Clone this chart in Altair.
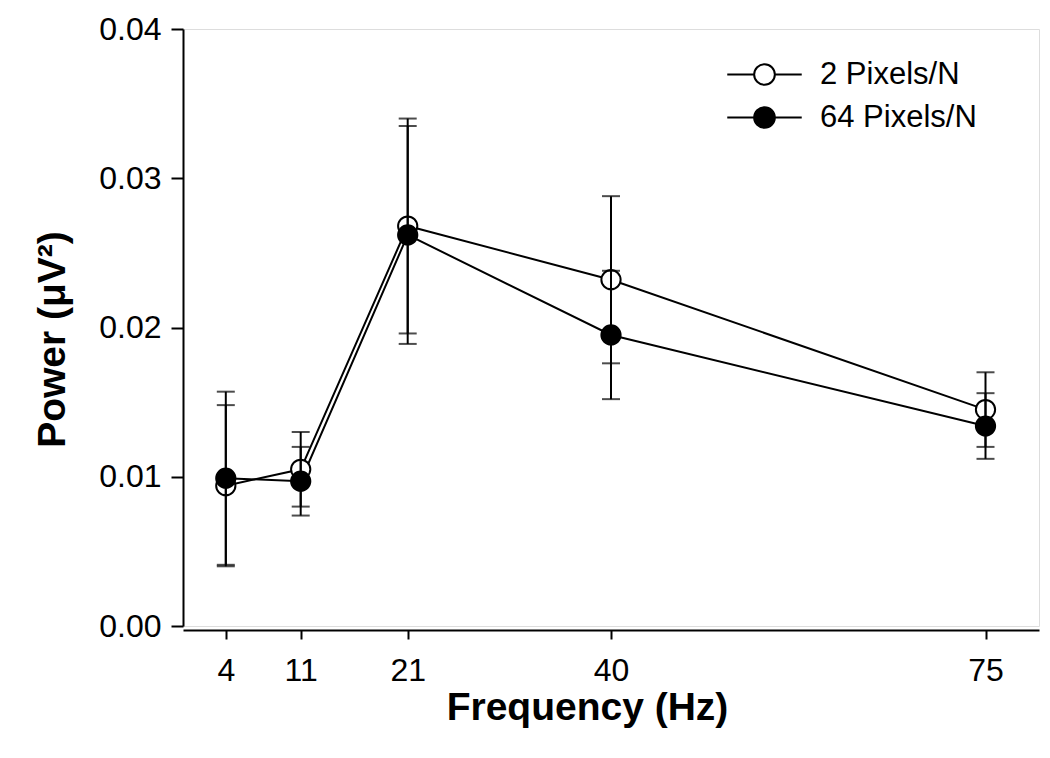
import altair as alt
import pandas as pd

# ---- data ----
freq = [4, 11, 21, 40, 75]
series_names = ["2 Pixels/N", "64 Pixels/N"]
mean_2px = [0.0094, 0.0105, 0.0268, 0.0232, 0.0145]
err_2px = [0.0054, 0.0025, 0.0072, 0.0056, 0.0025]
mean_64px = [0.0099, 0.0097, 0.0262, 0.0195, 0.0134]
err_64px = [0.0058, 0.0023, 0.0073, 0.0043, 0.0022]
x_ticks = [4, 11, 21, 40, 75]
y_ticks = [0.0, 0.01, 0.02, 0.03, 0.04]

rows = []
for name, means, errs in [(series_names[0], mean_2px, err_2px),
                          (series_names[1], mean_64px, err_64px)]:
    for f, m, e in zip(freq, means, errs):
        rows.append({"freq": f, "series": name, "power": m,
                     "lo": m - e, "hi": m + e})
df = pd.DataFrame(rows)

FONT = "Liberation Sans"

x_enc = alt.X(
    "freq:Q",
    scale=alt.Scale(domain=[0, 80], nice=False, zero=False),
    axis=alt.Axis(
        values=x_ticks, format="d", title="Frequency (Hz)",
        grid=False, offset=4, tickSize=9, labelPadding=16,
        labelFontSize=32, labelFont=FONT, labelColor="black",
        titleFontSize=39, titleFont=FONT, titleFontWeight="bold",
        titleColor="black", titleX=404, titleY=89,
        titleBaseline="alphabetic", titleAlign="center",
        domainColor="black", domainWidth=2, tickColor="black", tickWidth=2,
    ),
)
y_scale = alt.Scale(domain=[0, 0.04], nice=False, zero=False)
y_axis = alt.Axis(
    values=y_ticks, format=".2f", title="Power (μV²)",
    grid=False, tickSize=12, labelPadding=10,
    labelFontSize=32, labelFont=FONT, labelColor="black",
    titleFontSize=39, titleFont=FONT, titleFontWeight="bold",
    titleColor="black", titleX=-131, titleY=310,
    titleBaseline="middle", titleAlign="center", titleAngle=270,
    domainColor="black", domainWidth=2, tickColor="black", tickWidth=2,
)

base = alt.Chart(df)

lines = base.mark_line(color="black", strokeWidth=2).encode(
    x=x_enc,
    y=alt.Y("power:Q", scale=y_scale, axis=y_axis),
    detail="series:N",
)

legend_symbol = ("M-3.6,0H-1 M1,0H3.6 "
                 "M-1,0A1,1 0 1,1 1,0A1,1 0 1,1 -1,0Z")

points = base.mark_point(filled=True, size=370, stroke="black",
                         strokeWidth=2, opacity=1).encode(
    x=alt.X("freq:Q"),
    y=alt.Y("power:Q"),
    fill=alt.Fill(
        "series:N",
        scale=alt.Scale(domain=series_names, range=["white", "black"]),
        legend=alt.Legend(
            title=None, orient="none", legendX=566, legendY=30,
            symbolType=legend_symbol, symbolSize=428,
            symbolStrokeColor="black", symbolStrokeWidth=2,
            labelFontSize=31, labelFont=FONT, labelColor="black",
            labelOffset=40, rowPadding=11, labelLimit=400,
        ),
    ),
)

bars = base.mark_rule(color="black", strokeWidth=2).encode(
    x=alt.X("freq:Q"),
    y=alt.Y("lo:Q"),
    y2=alt.Y2("hi:Q"),
)

caps = base.transform_fold(["lo", "hi"], as_=["end", "val"]).mark_tick(
    color="black", orient="horizontal", size=18, thickness=2
).encode(
    x=alt.X("freq:Q"),
    y=alt.Y("val:Q"),
)

chart = alt.layer(lines, points, bars, caps).properties(
    width=856, height=597,
    autosize=alt.AutoSizeParams(type="none"),
    padding={"left": 175, "top": 21, "right": 2, "bottom": 120},
).configure_view(stroke=None).configure(background="white")

chart.save("out.html", embed_options={"renderer": "svg", "actions": False})
